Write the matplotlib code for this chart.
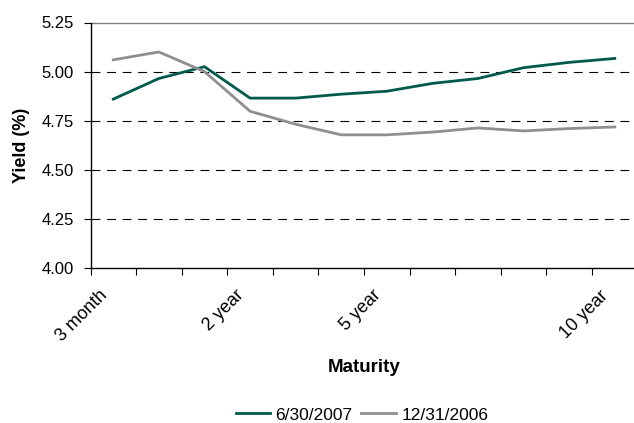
import matplotlib
matplotlib.use("Agg")
import matplotlib.pyplot as plt
from matplotlib.ticker import FixedLocator, NullFormatter
from matplotlib.transforms import ScaledTranslation

plt.rcParams['font.family'] = ['Liberation Sans', 'DejaVu Sans']

maturities = ["3 month", "6 month", "1 year", "2 year", "3 year", "4 year",
              "5 year", "6 year", "7 year", "8 year", "9 year", "10 year"]
tick_labels = ["3 month", "", "", "2 year", "", "", "5 year", "", "", "", "", "10 year"]
y_jun2007 = [4.86, 4.965, 5.025, 4.865, 4.865, 4.885, 4.90, 4.94, 4.965, 5.02, 5.047, 5.067]
y_dec2006 = [5.06, 5.10, 5.00, 4.798, 4.732, 4.678, 4.678, 4.692, 4.713, 4.698, 4.71, 4.718]
series_names = ["6/30/2007", "12/31/2006"]
yticks = [4.00, 4.25, 4.50, 4.75, 5.00, 5.25]

W, H = 634, 423
fig = plt.figure(figsize=(W / 100, H / 100), dpi=100)
ax = fig.add_axes([90.5 / W, (H - 268) / H, (637.6 - 90.5) / W, (268 - 22.5) / H])

x = list(range(len(maturities)))
l1, = ax.plot(x, y_jun2007, color="#005A4B", lw=2.0, solid_joinstyle='round')
l2, = ax.plot(x, y_dec2006, color="#8F8F8F", lw=2.0, solid_joinstyle='round')

ax.set_xlim(-0.5, len(maturities) - 0.5)
ax.set_ylim(4.0, 5.25)
ax.set_yticks(yticks)
ax.set_yticklabels([f"{v:.2f}" for v in yticks], fontsize=12)

for v in yticks[1:-1]:
    ax.axhline(v, color="black", lw=0.8, ls=(0, (8, 6)), zorder=0)
ax.axhline(5.25, color="#808080", lw=1.0, zorder=0)

ax.set_xticks(x)
ax.set_xticklabels(tick_labels, rotation=45, ha='right', va='center',
                   rotation_mode='anchor', fontsize=13)
ax.tick_params(axis='x', which='major', length=0, pad=18)
offset = ScaledTranslation(-9 / 100, 0, fig.dpi_scale_trans)
for lab in ax.get_xticklabels():
    lab.set_transform(lab.get_transform() + offset)
ax.xaxis.set_minor_locator(FixedLocator([i - 0.5 for i in range(len(maturities) + 1)]))
ax.xaxis.set_minor_formatter(NullFormatter())
ax.tick_params(axis='x', which='minor', length=5, width=0.8, direction='out')
ax.tick_params(axis='y', length=5, width=0.8, direction='out', pad=7)

for s in ['top', 'right']:
    ax.spines[s].set_visible(False)
ax.spines['left'].set_linewidth(1.0)
ax.spines['bottom'].set_linewidth(1.0)

fig.text(21 / W, 1 - 145 / H, "Yield (%)", rotation=90, ha='center', va='center',
         fontsize=13, fontweight='bold')
fig.text(364.5 / W, 1 - 367 / H, "Maturity", ha='center', va='center',
         fontsize=13.5, fontweight='bold')

fig.legend([l1, l2], series_names, loc='center', bbox_to_anchor=(362 / W, 1 - 415 / H),
           ncol=2, frameon=False, fontsize=12.5, handlelength=2.0, columnspacing=0.5,
           handletextpad=0.3, borderpad=0, borderaxespad=0)

fig.savefig("out.png", dpi=100)
